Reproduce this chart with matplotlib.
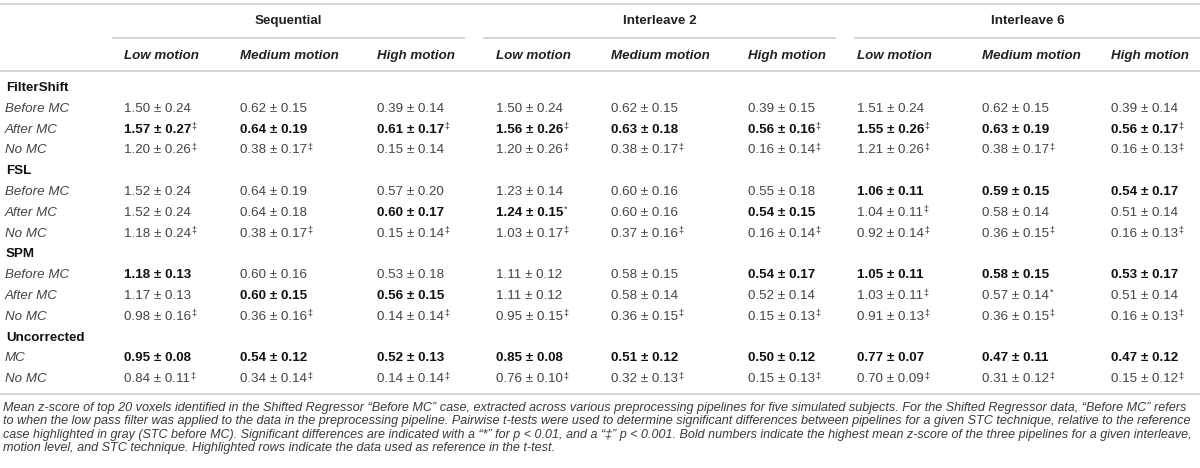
import matplotlib.pyplot as plt

groups = ['Sequential', 'Interleave 2', 'Interleave 6']
motions = ['Low motion', 'Medium motion', 'High motion']

# values per row, 9 columns (Seq L/M/H, Int2 L/M/H, Int6 L/M/H); trailing mark = significance
filtershift_before = ['1.50 ± 0.24', '0.62 ± 0.15', '0.39 ± 0.14', '1.50 ± 0.24', '0.62 ± 0.15', '0.39 ± 0.15', '1.51 ± 0.24', '0.62 ± 0.15', '0.39 ± 0.14']
filtershift_after = ['1.57 ± 0.27‡', '0.64 ± 0.19', '0.61 ± 0.17‡', '1.56 ± 0.26‡', '0.63 ± 0.18', '0.56 ± 0.16‡', '1.55 ± 0.26‡', '0.63 ± 0.19', '0.56 ± 0.17‡']
filtershift_nomc = ['1.20 ± 0.26‡', '0.38 ± 0.17‡', '0.15 ± 0.14', '1.20 ± 0.26‡', '0.38 ± 0.17‡', '0.16 ± 0.14‡', '1.21 ± 0.26‡', '0.38 ± 0.17‡', '0.16 ± 0.13‡']
fsl_before = ['1.52 ± 0.24', '0.64 ± 0.19', '0.57 ± 0.20', '1.23 ± 0.14', '0.60 ± 0.16', '0.55 ± 0.18', '1.06 ± 0.11', '0.59 ± 0.15', '0.54 ± 0.17']
fsl_after = ['1.52 ± 0.24', '0.64 ± 0.18', '0.60 ± 0.17', '1.24 ± 0.15*', '0.60 ± 0.16', '0.54 ± 0.15', '1.04 ± 0.11‡', '0.58 ± 0.14', '0.51 ± 0.14']
fsl_nomc = ['1.18 ± 0.24‡', '0.38 ± 0.17‡', '0.15 ± 0.14‡', '1.03 ± 0.17‡', '0.37 ± 0.16‡', '0.16 ± 0.14‡', '0.92 ± 0.14‡', '0.36 ± 0.15‡', '0.16 ± 0.13‡']
spm_before = ['1.18 ± 0.13', '0.60 ± 0.16', '0.53 ± 0.18', '1.11 ± 0.12', '0.58 ± 0.15', '0.54 ± 0.17', '1.05 ± 0.11', '0.58 ± 0.15', '0.53 ± 0.17']
spm_after = ['1.17 ± 0.13', '0.60 ± 0.15', '0.56 ± 0.15', '1.11 ± 0.12', '0.58 ± 0.14', '0.52 ± 0.14', '1.03 ± 0.11‡', '0.57 ± 0.14*', '0.51 ± 0.14']
spm_nomc = ['0.98 ± 0.16‡', '0.36 ± 0.16‡', '0.14 ± 0.14‡', '0.95 ± 0.15‡', '0.36 ± 0.15‡', '0.15 ± 0.13‡', '0.91 ± 0.13‡', '0.36 ± 0.15‡', '0.16 ± 0.13‡']
unc_mc = ['0.95 ± 0.08', '0.54 ± 0.12', '0.52 ± 0.13', '0.85 ± 0.08', '0.51 ± 0.12', '0.50 ± 0.12', '0.77 ± 0.07', '0.47 ± 0.11', '0.47 ± 0.12']
unc_nomc = ['0.84 ± 0.11‡', '0.34 ± 0.14‡', '0.14 ± 0.14‡', '0.76 ± 0.10‡', '0.32 ± 0.13‡', '0.15 ± 0.13‡', '0.70 ± 0.09‡', '0.31 ± 0.12‡', '0.15 ± 0.12‡']

# bold flags (1 = highest of the three pipelines)
filtershift_after_bold = [1, 1, 1, 1, 1, 1, 1, 1, 1]
fsl_before_bold = [0, 0, 0, 0, 0, 0, 1, 1, 1]
fsl_after_bold = [0, 0, 1, 1, 0, 1, 0, 0, 0]
spm_before_bold = [1, 0, 0, 0, 0, 1, 1, 1, 1]
spm_after_bold = [0, 1, 1, 0, 0, 0, 0, 0, 0]
unc_mc_bold = [1, 1, 1, 1, 1, 1, 1, 1, 1]
none_bold = [0] * 9

rows = [
    ('FilterShift', None, None),
    ('Before MC', filtershift_before, none_bold),
    ('After MC', filtershift_after, filtershift_after_bold),
    ('No MC', filtershift_nomc, none_bold),
    ('FSL', None, None),
    ('Before MC', fsl_before, fsl_before_bold),
    ('After MC', fsl_after, fsl_after_bold),
    ('No MC', fsl_nomc, none_bold),
    ('SPM', None, None),
    ('Before MC', spm_before, spm_before_bold),
    ('After MC', spm_after, spm_after_bold),
    ('No MC', spm_nomc, none_bold),
    ('Uncorrected', None, None),
    ('MC', unc_mc, unc_mc_bold),
    ('No MC', unc_nomc, none_bold),
]

caption = [
    'Mean z-score of top 20 voxels identified in the Shifted Regressor \u201cBefore MC\u201d case, extracted across various preprocessing pipelines for five simulated subjects. For the Shifted Regressor data, \u201cBefore MC\u201d refers',
    'to when the low pass filter was applied to the data in the preprocessing pipeline. Pairwise t-tests were used to determine significant differences between pipelines for a given STC technique, relative to the reference',
    'case highlighted in gray (STC before MC). Significant differences are indicated with a \u201c*\u201d for p < 0.01, and a \u201c\u2021\u201d p < 0.001. Bold numbers indicate the highest mean z-score of the three pipelines for a given interleave,',
    'motion level, and STC technique. Highlighted rows indicate the data used as reference in the t-test.',
]

plt.rcParams['font.family'] = ['Liberation Sans', 'DejaVu Sans']

fig = plt.figure(figsize=(12, 4.68), dpi=100)
ax = fig.add_axes([0, 0, 1, 1])
ax.set_xlim(0, 1200)
ax.set_ylim(468, 0)
ax.axis('off')

col_x = [124, 240, 377, 496, 611, 748, 857, 982, 1111]
spans = [(113, 464), (484, 835), (855, 1200)]
line_c = '#d4d4d4'
fs = 9.6
val_c = '#444444'

ax.plot([0, 1200], [4, 4], color=line_c, lw=1.4)
ax.plot([0, 1200], [71, 71], color=line_c, lw=1.4)
ax.plot([0, 1200], [394, 394], color=line_c, lw=1.4)
for g, (a, b) in zip(groups, spans):
    ax.plot([a, b], [38, 38], color=line_c, lw=1.4)
    ax.text((a + b) / 2, 21, g, ha='center', va='center', fontsize=fs, fontweight='bold', color='#222222')
for i, x in enumerate(col_x):
    ax.text(x, 56, motions[i % 3], ha='left', va='center', fontsize=fs, fontweight='bold',
            style='italic', color='#222222')

y0, step = 88, 20.8
marks = []
for i, (label, vals, bold) in enumerate(rows):
    y = y0 + i * step
    if vals is None:
        ax.text(6, y, label, ha='left', va='center', fontsize=fs, fontweight='bold', color='#111111')
        continue
    ax.text(5, y, label, ha='left', va='center', fontsize=fs, style='italic', color=val_c)
    for j, v in enumerate(vals):
        mark = ''
        if v[-1] in '‡*':
            v, mark = v[:-1], v[-1]
        if bold[j]:
            t = ax.text(col_x[j], y, v, ha='left', va='center', fontsize=fs, fontweight='bold', color='#111111')
        else:
            t = ax.text(col_x[j], y, v, ha='left', va='center', fontsize=fs, color=val_c)
        if mark:
            marks.append((t, y, mark))

fig.canvas.draw()
r = fig.canvas.get_renderer()
for t, y, mark in marks:
    bb = t.get_window_extent(r)
    ax.text(bb.x1 + 0.5, y - 3.5, mark, ha='left', va='center', fontsize=6.5, color='#333333')

# caption, each full line stretched to the table width
cap = []
for k, line in enumerate(caption):
    cap.append(ax.text(3, 408 + k * 13.4, line, ha='left', va='center', fontsize=9, style='italic',
                       color='#3a3a3a'))
fig.canvas.draw()
sizes = []
for t in cap[:3]:
    w = t.get_window_extent(r).width
    sizes.append(9 * 1191 / w)
    t.set_fontsize(sizes[-1])
cap[3].set_fontsize(sizes[0])

fig.savefig('out.png', dpi=100)
